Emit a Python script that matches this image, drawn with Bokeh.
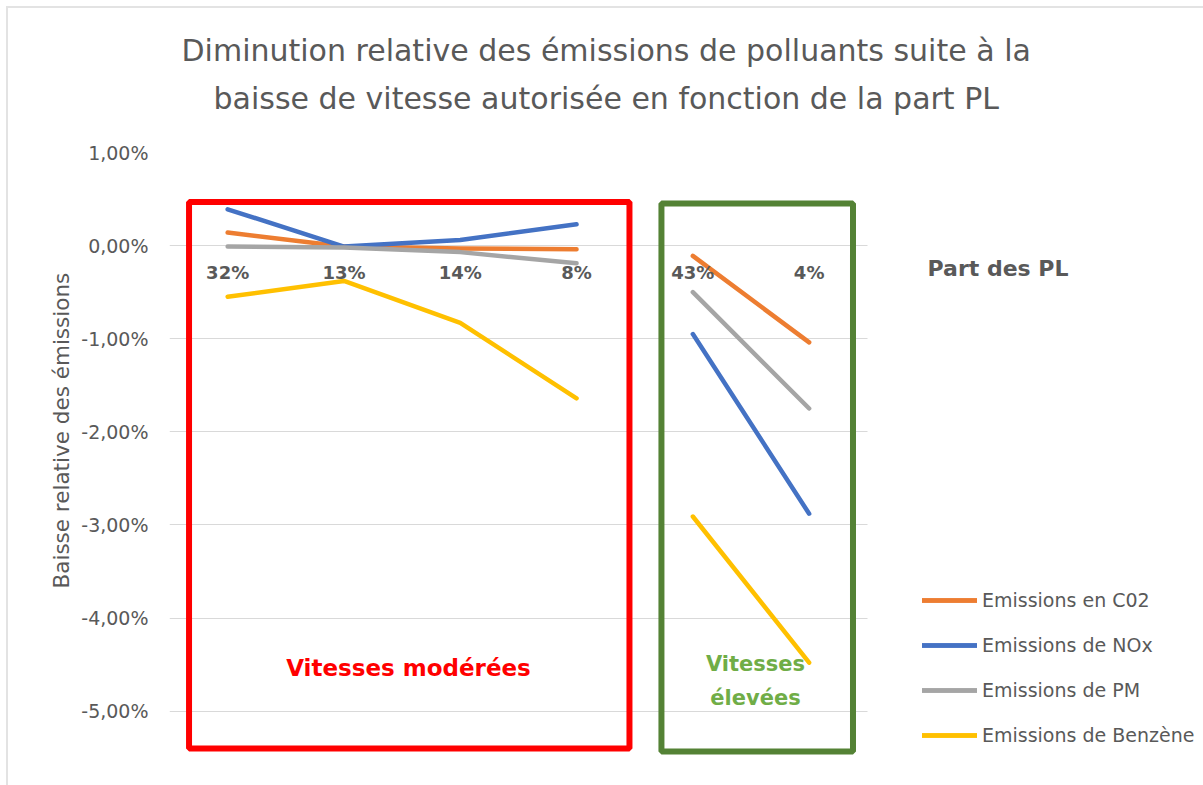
from bokeh.plotting import figure
from bokeh.models import (Range1d, FixedTicker, CustomJSTickFormatter, Grid, InlineStyleSheet,
                          Label, BoxAnnotation, Legend, LegendItem, Title)
from bokeh.core.properties import value
from bokeh.embed import file_html
from bokeh.resources import INLINE

# ---------------- data ----------------
categories = ["32%", "13%", "14%", "8%", "43%", "4%"]
segment_moderate = [0, 1, 2, 3]
segment_high = [4, 5]
series_names = ["Emissions en C02", "Emissions de NOx", "Emissions de PM", "Emissions de Benzène"]
co2 = [0.14, -0.01, -0.03, -0.04, -0.11, -1.04]
nox = [0.39, -0.01, 0.06, 0.23, -0.95, -2.88]
pm = [-0.01, -0.02, -0.07, -0.19, -0.50, -1.75]
benzene = [-0.55, -0.38, -0.83, -1.64, -2.91, -4.48]
y_ticks = [1, 0, -1, -2, -3, -4, -5]
title_line1 = "Diminution relative des émissions de polluants suite à la"
title_line2 = "baisse de vitesse autorisée en fonction de la part PL"
y_title = "Baisse relative des émissions"
x_title = "Part des PL"
zone_moderate = "Vitesses modérées"
zone_high = ["Vitesses", "élevées"]

colors = ["#ED7D31", "#4472C4", "#A5A5A5", "#FFC000"]
FONT = "DejaVu Sans"
GREY = "#595959"

n = len(categories)
xpos = [i + 0.5 for i in range(n)]          # category centres on the x scale

W, H = 1203, 785
FL, FT = 169, 152                            # frame left / top in pixels
CAT_PX = 116.3                               # pixels per category
PCT_PX = 93.1                                # pixels per 1 %

p = figure(width=W, height=H,
           x_range=Range1d(0, (W - FL) / CAT_PX),
           y_range=Range1d(1 - (H - FT) / PCT_PX, 1),
           x_axis_location=None, output_backend="svg", toolbar_location=None,
           title=title_line1,
           min_border_left=FL, min_border_right=0, min_border_top=FT, min_border_bottom=0)
p.outline_line_color = None
p.xgrid.visible = False
p.ygrid.visible = False
p.background_fill_color = "white"
p.stylesheets = [InlineStyleSheet(css=""":host::after { content: ''; position: absolute;
  left: 6px; top: 6px; right: 0; bottom: 0; border-top: 2px solid #E3E3E3;
  border-left: 2px solid #E3E3E3; pointer-events: none; z-index: 50; }""")]

# titles
p.title.text_font = FONT
p.title.text_font_size = "30px"
p.title.text_font_style = "normal"
p.title.text_color = GREY
p.title.align = "left"
p.title.offset = 12
p.title.standoff = -51
t2 = Title(text=title_line2, align="left", offset=44, standoff=73, text_font=FONT,
           text_font_size="30px", text_font_style="normal", text_color=GREY)
p.add_layout(t2, "above")

# y axis
ax = p.yaxis[0]
ax.ticker = FixedTicker(ticks=y_ticks)
ax.formatter = CustomJSTickFormatter(code="return tick.toFixed(2).replace('.', ',') + '%';")
ax.axis_line_color = None
ax.major_tick_line_color = None
ax.minor_tick_line_color = None
ax.major_tick_out = 0
ax.major_label_standoff = 21
ax.major_label_text_font = FONT
ax.major_label_text_font_size = "19px"
ax.major_label_text_color = GREY

# y-axis title, placed along the -5 % .. 1 % span
ytitle = Title(text=y_title, align="left", offset=197, standoff=10, text_font=FONT,
               text_font_size="21.5px", text_font_style="normal", text_color=GREY)
p.add_layout(ytitle, "left")

# horizontal gridlines, limited to the category area
grid = Grid(dimension=1, ticker=FixedTicker(ticks=y_ticks), grid_line_color="#D9D9D9",
            grid_line_width=1)
if "cross_bounds" in Grid.properties():
    grid.cross_bounds = (0, n)
    p.add_layout(grid)
else:
    p.segment(x0=[0] * len(y_ticks), x1=[n] * len(y_ticks), y0=y_ticks, y1=y_ticks,
              line_color="#D9D9D9", line_width=1)

# zone boxes
p.add_layout(BoxAnnotation(left=0.168, right=3.955, top=0.468, bottom=-5.402,
                           fill_color=None, line_color="#FF0000", line_alpha=1, line_width=6))
p.add_layout(BoxAnnotation(left=4.230, right=5.877, top=0.452, bottom=-5.434,
                           fill_color=None, line_color="#548235", line_alpha=1, line_width=6))

# lines
items = []
for name, vals, col in zip(series_names, [co2, nox, pm, benzene], colors):
    rs = []
    for seg in (segment_moderate, segment_high):
        r = p.line([xpos[i] for i in seg], [vals[i] for i in seg], line_color=col,
                   line_width=4.5, line_cap="round", line_join="round")
        rs.append(r)
    items.append(LegendItem(label=name, renderers=rs))

# category labels next to the zero axis
p.text(x=xpos, y=[0] * n, text=categories, y_offset=27,
       text_align="center", text_baseline="middle", text_font=value(FONT),
       text_font_size="18px", text_font_style="bold", text_color=GREY)

# x-axis title
p.add_layout(Label(x=6.518, y=-0.246, text=x_title, text_align="left", text_baseline="middle",
                   text_font=FONT, text_font_size="22px", text_font_style="bold", text_color=GREY))

# zone labels
p.add_layout(Label(x=2.055, y=-4.542, text=zone_moderate, text_align="center", text_baseline="middle",
                   text_font=FONT, text_font_size="23px", text_font_style="bold", text_color="#FF0000"))
p.add_layout(Label(x=5.039, y=-4.489, text=zone_high[0], text_align="center", text_baseline="middle",
                   text_font=FONT, text_font_size="21px", text_font_style="bold", text_color="#70AD47"))
p.add_layout(Label(x=5.039, y=-4.854, text=zone_high[1], text_align="center", text_baseline="middle",
                   text_font=FONT, text_font_size="21px", text_font_style="bold", text_color="#70AD47"))

legend = Legend(items=items, location=(753, 39), orientation="vertical", glyph_width=55,
                glyph_height=22, label_height=22, spacing=23, label_standoff=5, padding=0, margin=0,
                border_line_color=None, background_fill_alpha=0, label_text_font=FONT,
                label_text_font_size="19px", label_text_color=GREY)
p.add_layout(legend)

open("out.html", "w").write(file_html(p, INLINE))
